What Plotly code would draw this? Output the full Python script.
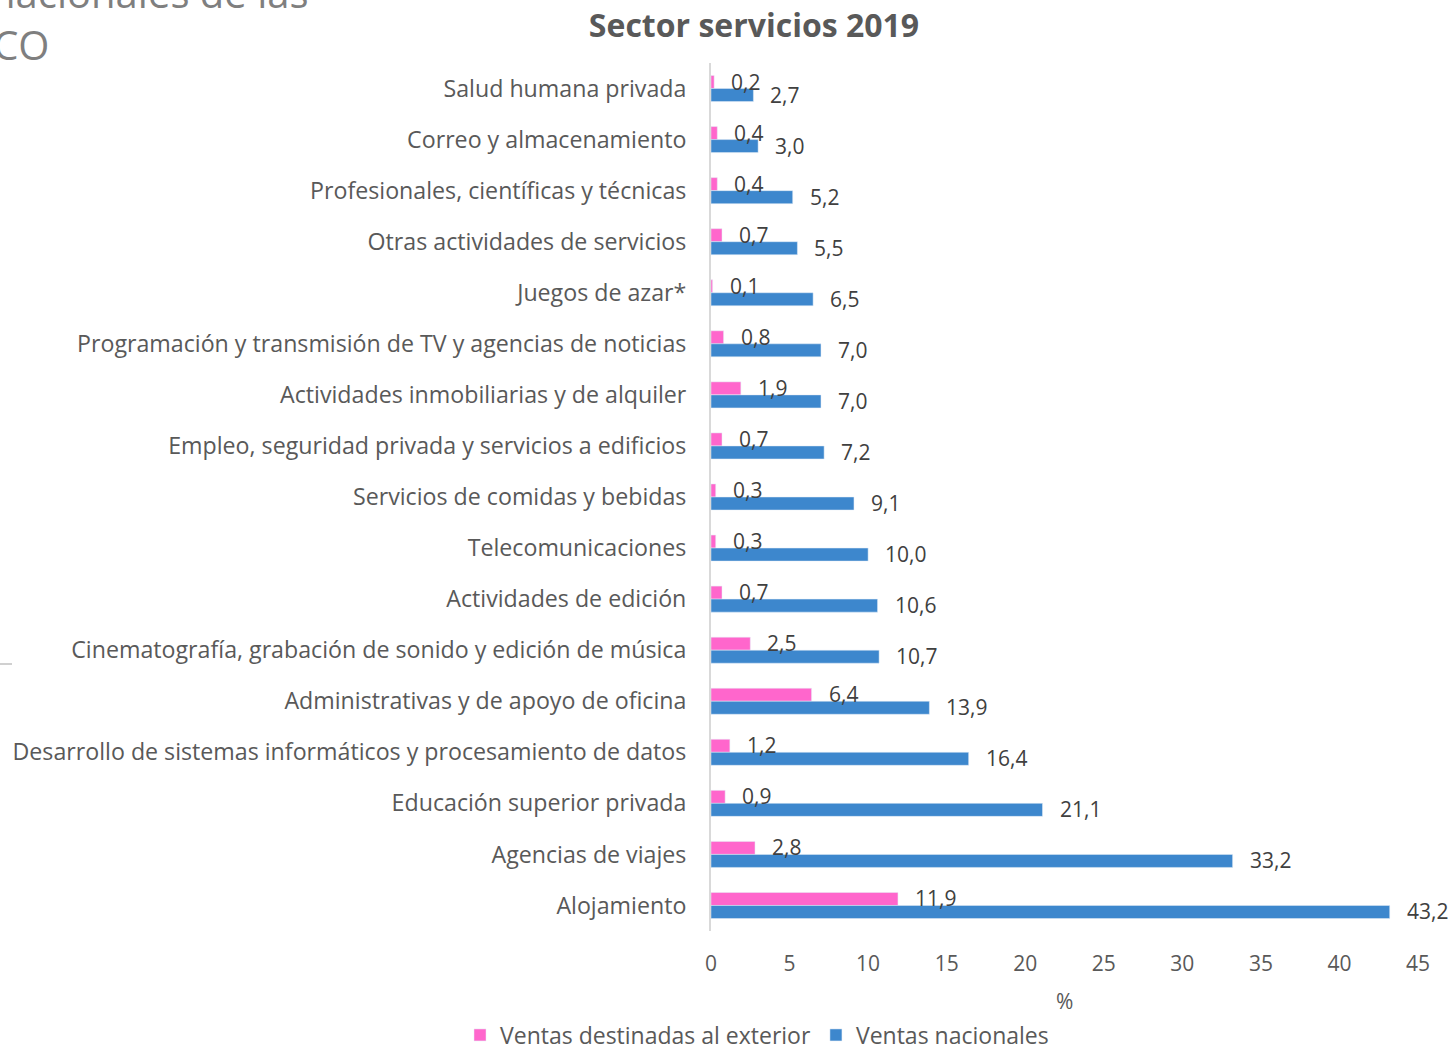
import plotly.graph_objects as go

categorias = [
    "Salud humana privada",
    "Correo y almacenamiento",
    "Profesionales, científicas y técnicas",
    "Otras actividades de servicios",
    "Juegos de azar*",
    "Programación y transmisión de TV y agencias de noticias",
    "Actividades inmobiliarias y de alquiler",
    "Empleo, seguridad privada y servicios a edificios",
    "Servicios de comidas y bebidas",
    "Telecomunicaciones",
    "Actividades de edición",
    "Cinematografía, grabación de sonido y edición de música",
    "Administrativas y de apoyo de oficina",
    "Desarrollo de sistemas informáticos y procesamiento de datos",
    "Educación superior privada",
    "Agencias de viajes",
    "Alojamiento",
]
ventas_exterior = [0.2, 0.4, 0.4, 0.7, 0.1, 0.8, 1.9, 0.7, 0.3, 0.3, 0.7, 2.5, 6.4, 1.2, 0.9, 2.8, 11.9]
ventas_nacionales = [2.7, 3.0, 5.2, 5.5, 6.5, 7.0, 7.0, 7.2, 9.1, 10.0, 10.6, 10.7, 13.9, 16.4, 21.1, 33.2, 43.2]
ticks_x = [0, 5, 10, 15, 20, 25, 30, 35, 40, 45]

ROSA = "#FF66CC"
AZUL = "#3D87CD"
FONT = "Open Sans"

# area de trazado en pixeles
L, R, T, B = 711, 1418, 63, 931
W, H = R - L, B - T


def px_x(x):
    return (x - L) / W


def px_y(y):
    return (B - y) / H


def fmt(v):
    return f"{v:.1f}".replace(".", ",")


fig = go.Figure()
fig.add_trace(go.Bar(y=categorias, x=ventas_exterior, orientation="h",
                     name="Ventas destinadas al exterior", marker_color=ROSA))
fig.add_trace(go.Bar(y=categorias, x=ventas_nacionales, orientation="h",
                     name="Ventas nacionales", marker_color=AZUL))

# etiquetas de datos estilo Excel
for cat, v in zip(categorias, ventas_exterior):
    fig.add_annotation(x=v, y=cat, text=fmt(v), showarrow=False, xanchor="left",
                       xshift=15, yshift=7, font=dict(size=21, color="#404040", family=FONT))
for cat, v in zip(categorias, ventas_nacionales):
    fig.add_annotation(x=v, y=cat, text=fmt(v), showarrow=False, xanchor="left",
                       xshift=15, yshift=-6, font=dict(size=21, color="#404040", family=FONT))

fig.add_annotation(x=0.5, y=px_y(1001), xref="paper", yref="paper", text="%",
                   showarrow=False, yanchor="middle",
                   font=dict(size=21, color="#595959", family=FONT))

# restos de texto del slide recortado
fig.add_annotation(x=px_x(311), y=px_y(22), xref="paper", yref="paper",
                   text="nacionales de las", showarrow=False, xanchor="right", yanchor="bottom",
                   font=dict(size=40, color="#7F7F7F", family=FONT))
fig.add_annotation(x=px_x(51), y=px_y(45), xref="paper", yref="paper",
                   text="ICO", showarrow=False, xanchor="right", yanchor="middle",
                   font=dict(size=40, color="#7F7F7F", family=FONT))
fig.add_shape(type="line", xref="paper", yref="paper",
              x0=px_x(0), x1=px_x(12), y0=px_y(664), y1=px_y(664),
              line=dict(color="#D0D0D0", width=2))

fig.update_layout(
    width=1453, height=1046,
    margin=dict(l=L, r=1453 - R, t=T, b=1046 - B, autoexpand=False),
    paper_bgcolor="white", plot_bgcolor="white",
    barmode="group", bargap=0.49, bargroupgap=0,
    title=dict(text="<b>Sector servicios 2019</b>", x=754 / 1453, xanchor="center",
               y=1 - 26 / 1046, yanchor="middle",
               font=dict(size=32, color="#595959", family=FONT)),
    font=dict(family=FONT, color="#595959"),
    legend=dict(orientation="h", x=px_x(757), xanchor="center",
                y=px_y(1035), yanchor="middle",
                font=dict(size=23, color="#595959", family=FONT),
                traceorder="normal"),
)
fig.update_xaxes(range=[0, 45], tickvals=ticks_x, showgrid=False, zeroline=False,
                 showline=False, automargin=False,
                 tickfont=dict(size=21, color="#595959"), ticklabelstandoff=18)
fig.update_yaxes(autorange="reversed", showgrid=False, showline=True, automargin=False,
                 linecolor="#D9D9D9", linewidth=2,
                 tickfont=dict(size=23.2, color="#595959"), ticklabelstandoff=18)

# quitar el margen por defecto del body para que la figura quede en (0, 0)
fig.write_html("out.html", config={"displayModeBar": False},
               post_script="document.body.style.margin='0';")
